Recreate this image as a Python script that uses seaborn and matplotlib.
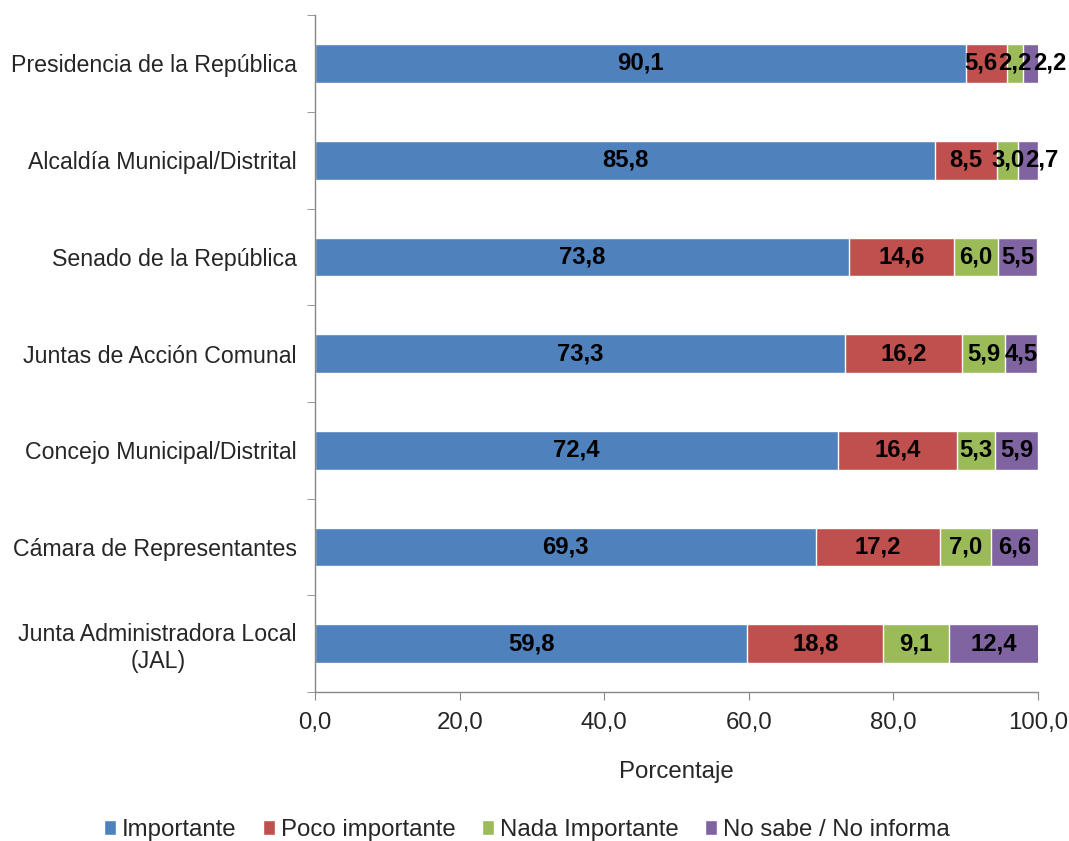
import numpy as np
import pandas as pd
import matplotlib.pyplot as plt
import seaborn as sns
from matplotlib.patches import Patch
from matplotlib.ticker import FixedLocator

instituciones = ['Presidencia de la República', 'Alcaldía Municipal/Distrital',
                 'Senado de la República', 'Juntas de Acción Comunal',
                 'Concejo Municipal/Distrital', 'Cámara de Representantes',
                 'Junta Administradora Local\n(JAL)']
importante = [90.1, 85.8, 73.8, 73.3, 72.4, 69.3, 59.8]
poco = [5.6, 8.5, 14.6, 16.2, 16.4, 17.2, 18.8]
nada = [2.2, 3.0, 6.0, 5.9, 5.3, 7.0, 9.1]
no_sabe = [2.2, 2.7, 5.5, 4.5, 5.9, 6.6, 12.4]

series = ['Importante', 'Poco importante', 'Nada Importante', 'No sabe / No informa']
colores = ['#4F81BD', '#C0504D', '#9BBB59', '#8064A2']

df = pd.DataFrame({'Institucion': instituciones, 'Importante': importante,
                   'Poco importante': poco, 'Nada Importante': nada,
                   'No sabe / No informa': no_sabe})
cum = df[series].cumsum(axis=1)

sns.set_style('white')
plt.rcParams['font.family'] = ['Liberation Sans', 'DejaVu Sans']

fig = plt.figure(figsize=(10.69, 8.41), dpi=100)
ax = fig.add_axes([0.2947, 0.177, 0.9710 - 0.2947, 0.982 - 0.177])

# stacked bars: draw cumulative totals from the outermost segment inwards
for s, c in zip(series[::-1], colores[::-1]):
    sns.barplot(x=cum[s], y=df['Institucion'], color=c, orient='h', width=0.4,
                saturation=1, edgecolor='white', linewidth=1, ax=ax)

ax.set_xlim(0, 100)
ax.set_ylim(6.5, -0.5)
ax.set_xticks(np.arange(0, 101, 20))
ax.set_xticklabels([f'{v:.1f}'.replace('.', ',') for v in np.arange(0, 101, 20)], fontsize=17.3)
ax.set_yticks(range(len(instituciones)))
ax.set_yticklabels(instituciones, fontsize=16.7, multialignment='center')
ax.yaxis.set_minor_locator(FixedLocator(np.arange(-0.5, 7, 1)))
ax.tick_params(axis='y', which='major', length=0, pad=13)
ax.tick_params(axis='y', which='minor', length=6, color='#888888', direction='out', left=True)
ax.tick_params(axis='x', length=6, color='#888888', direction='out', bottom=True, pad=8)
ax.set_xlabel('Porcentaje', fontsize=17.3, labelpad=20)
ax.set_ylabel('')
for side in ['top', 'right']:
    ax.spines[side].set_visible(False)
for side in ['left', 'bottom']:
    ax.spines[side].set_color('#888888')
    ax.spines[side].set_linewidth(1)

# value labels: centred in each segment, nudged so they neither collide
# nor run past the right edge of the figure
fig.canvas.draw()
renderer = fig.canvas.get_renderer()
inv = ax.transData.inverted()
fig_w = fig.bbox.width
for i in range(len(instituciones)):
    textos, x0s, anchos = [], [], []
    for s in series:
        v = df.loc[i, s]
        centro = cum.loc[i, s] - v / 2
        t = ax.text(centro, i, f'{v:.1f}'.replace('.', ','), ha='center', va='center',
                    fontsize=17.2, fontweight='bold', color='black', clip_on=False)
        bb = t.get_window_extent(renderer)
        textos.append(t)
        x0s.append(bb.x0)
        anchos.append(bb.width)
    # forward pass: push right
    for k in range(1, len(textos)):
        x0s[k] = max(x0s[k], x0s[k - 1] + anchos[k - 1] + 1)
    # backward pass: keep inside the figure
    x0s[-1] = min(x0s[-1], fig_w - 3 - anchos[-1])
    for k in range(len(textos) - 2, -1, -1):
        x0s[k] = min(x0s[k], x0s[k + 1] - 1 - anchos[k])
    for t, x0, w in zip(textos, x0s, anchos):
        t.set_x(inv.transform((x0 + w / 2, 0))[0])

handles = [Patch(facecolor=c, edgecolor='white') for c in colores]
fig.legend(handles, series, loc='center', ncol=4, frameon=False, fontsize=17.3,
           handlelength=0.5, handleheight=0.6, handletextpad=0.25, columnspacing=1.1,
           bbox_to_anchor=(0.493, 1 - 830 / 841))

fig.savefig('out.png', dpi=100)
